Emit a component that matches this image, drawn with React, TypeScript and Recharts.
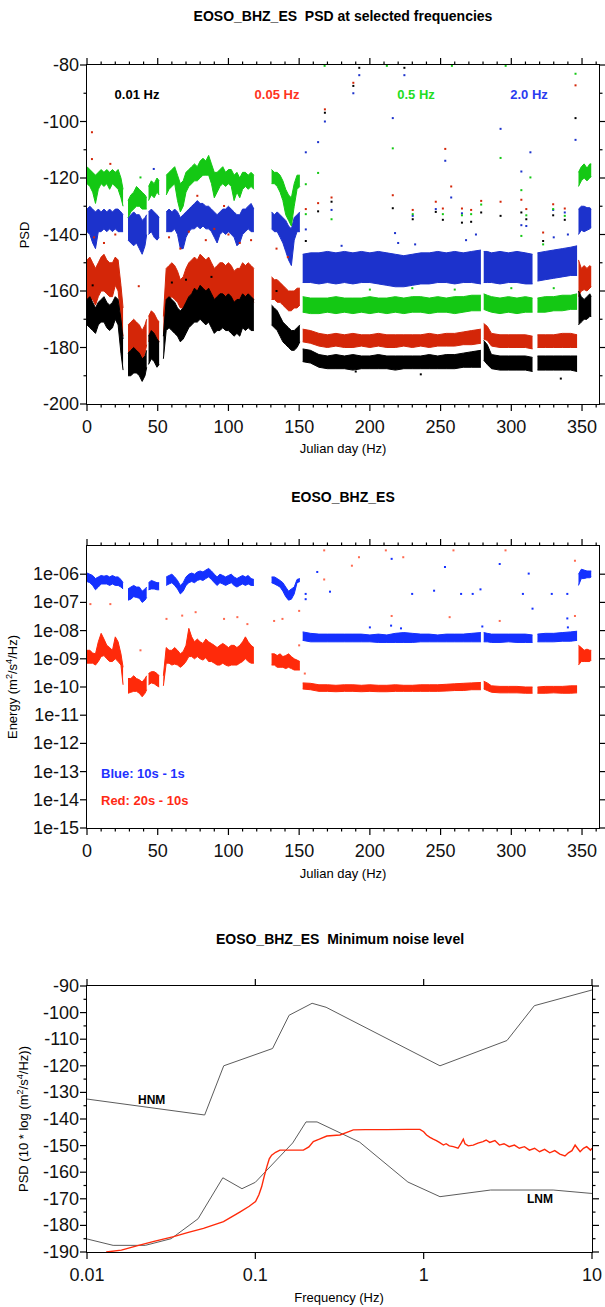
import React from "react";
import { ComposedChart, Area, Scatter, Line, XAxis, YAxis } from "recharts";

const N = null;
type Val = number | null;

// sampled Julian days; rows that are null in a series are gaps in the record
const DAYS = [
  0, 2, 4, 6, 8, 10, 12, 14, 16, 18, 20, 22, 24, 25.5,
  27,
  29, 31, 33, 35, 37, 39, 41, 42.2,
  42.8,
  43.5, 45.5, 47.5, 49.5, 51,
  52.5,
  54,
  56, 58, 60, 62, 64, 66, 68, 70, 72, 74, 76, 78, 80, 82, 84, 86,
  88, 90, 92, 94, 96, 98, 100, 102, 104, 106, 108, 110, 112, 114, 116, 118,
  120,
  130.5, 132.5, 134.5, 136.5, 138.5, 140.5, 142.5, 144.5, 146.5, 148.5, 150.5,
  151.5,
  152.5, 158, 164, 170, 176, 182, 188, 194, 200, 206, 212,
  218, 224, 230, 236, 242, 248, 254, 260, 266, 272, 278.5,
  279.5,
  280.5, 283, 286, 292, 298, 304, 310, 315,
  316.5,
  318.5, 324, 330, 336, 342, 346.5,
  346.9,
  347.5, 349.5, 351.5, 353.5, 355.5, 356.5,
];

// ---- PSD at selected frequencies (dB), upper / lower edge of each cloud ----
const HZ2_HI: Val[] = [
  -131, -130, -131, -132, -131, -132, -131, -132, -131, -132, -131, -131, -132, -133,
  N,
  -134, -133, -132, -133, -133, -135, -134, -133,
  N,
  -132, -131, -132, -133, -134,
  N,
  N,
  -132, -131, -132, -131, -132, -134, -133, -132, -131, -130, -129, -128, -129, -129, -130, -130,
  -131, -132, -133, -132, -131, -131, -130, -131, -132, -133, -133, -131, -131, -130, -129, -131,
  N,
  -132, -133, -132, -133, -134, -135, -137, -138, -134, -133, -132,
  N,
  -147, -146.5, -146.5, -146, -146.5, -146, -146.5, -146, -146.5, -146, -146.5,
  -147, -147.5, -147, -146.5, -146.5, -146, -146.5, -146, -146.5, -146, -145.5,
  N,
  -146, -146, -146.5, -146, -146.5, -146, -146.5, -147,
  N,
  -146.5, -146, -145.5, -145, -144.5, -144,
  N,
  -131, -130, -130, -130.5, -130.5, -131,
];
const HZ2_LO: Val[] = [
  -139, -140, -143, -145, -139, -139, -138, -139, -138, -139, -138, -139, -139, -139,
  N,
  -142, -143, -144, -143, -145, -147, -144, -140,
  N,
  -140, -139, -141, -142, -141,
  N,
  N,
  -139, -139, -139, -138, -140, -145, -145, -141, -139, -138, -138, -137, -138, -137, -138, -138,
  -139, -141, -143, -140, -139, -140, -139, -140, -141, -144, -143, -140, -139, -138, -139, -139,
  N,
  -138, -139, -139, -141, -143, -146, -149, -151, -142, -139, -139,
  N,
  -157, -157, -157.5, -157, -157.5, -157, -157.5, -157, -157, -157.5, -158,
  -158.5, -158.5, -158, -157.5, -157.5, -157, -157, -157.5, -157, -157, -157.5,
  N,
  -157, -157, -157, -157.5, -157, -157, -157.5, -157.5,
  N,
  -156.5, -156, -155.5, -155, -154.5, -154.5,
  N,
  -140, -138.5, -139, -138.5, -138, -137.5,
];
const HZ05_HI: Val[] = [
  -116, -117, -118, -119, -118, -117, -118, -117, -118, -117, -118, -117, -120, -124,
  N,
  -128, -126, -125, -123, -124, -125, -126, -127,
  N,
  -123, -121, -122, -120, -121,
  N,
  N,
  -119, -118, -117, -116, -119, -122, -121, -118, -117, -116, -115, -116, -114, -113, -114, -112,
  -115, -118, -118, -117, -116, -118, -117, -117, -119, -118, -120, -118, -118, -119, -118, -119,
  N,
  -117, -118, -118, -119, -121, -124, -126, -127, -122, -119, -119,
  N,
  -162, -162.5, -162.5, -162.5, -162, -162.5, -162.5, -162.5, -162, -162.5, -162.5,
  -162, -162.5, -162, -162, -162.5, -162, -162.5, -162, -162, -161.5, -161.5,
  N,
  -161, -161.5, -162, -162.5, -162, -162.5, -162, -162.5,
  N,
  -162.5, -162, -162, -161.5, -161.5, -161,
  N,
  -118, -116, -115, -116.5, -115, -115,
];
const HZ05_LO: Val[] = [
  -122, -123, -125, -129, -124, -122, -123, -122, -124, -122, -123, -124, -127, -130,
  N,
  -134, -132, -131, -130, -130, -131, -131, -131,
  N,
  -128, -126, -127, -125, -126,
  N,
  N,
  -126, -124, -123, -122, -128, -132, -130, -125, -123, -122, -121, -121, -120, -119, -119, -119,
  -122, -127, -125, -123, -122, -123, -122, -123, -128, -125, -127, -124, -123, -124, -123, -124,
  N,
  -122, -122, -123, -125, -128, -133, -135, -137, -130, -124, -123,
  N,
  -167.5, -168, -168, -167.5, -168, -167.5, -168, -167.5, -168, -167.5, -168,
  -167.5, -168, -167.5, -167.5, -168, -167.5, -167.5, -168, -167.5, -167, -167,
  N,
  -166.5, -167, -167.5, -168, -167.5, -168, -167.5, -167.5,
  N,
  -167.5, -167.5, -167, -167, -166.5, -166.5,
  N,
  -123, -121, -120, -121, -120, -119.5,
];
const HZ005_HI: Val[] = [
  -149, -148, -150, -152, -150, -148, -147, -149, -150, -150, -148, -149, -158, -166,
  N,
  -172, -171, -170, -171, -172, -174, -172, -170,
  N,
  -169, -167, -168, -170, -171,
  N,
  -169,
  -152, -151, -150, -151, -153, -156, -155, -152, -150, -149, -148, -149, -147, -148, -149, -148,
  -150, -152, -151, -150, -150, -151, -150, -151, -153, -152, -152, -150, -151, -150, -151, -152,
  N,
  -155, -156, -156, -157, -158, -159, -160, -160, -160, -159, -159,
  N,
  -173.5, -174, -175, -175.5, -175, -175.5, -175, -175.5, -175.5, -175, -175.5,
  -175.5, -175.5, -175.5, -175.5, -175, -175.5, -175, -175, -174.5, -174, -173.5,
  N,
  -171.5, -172.5, -175, -175.5, -175.5, -175.5, -175.5, -176,
  N,
  -175.5, -175.5, -175.5, -175, -175, -175.5,
  N,
  -149, -152, -151, -152, -151, -151.5,
];
const HZ005_LO: Val[] = [
  -163, -164, -163, -165, -162, -160, -160, -161, -162, -162, -158, -160, -170, -176,
  N,
  -182, -181, -181, -182, -183, -185, -182, -179,
  N,
  -178, -176, -177, -179, -178,
  N,
  -176,
  -164, -163, -162, -163, -164, -166, -166, -164, -162, -161, -160, -161, -160, -161, -162, -161,
  -162, -164, -163, -163, -162, -163, -163, -164, -165, -164, -165, -162, -163, -162, -163, -164,
  N,
  -163, -163, -164, -164, -165, -166, -167, -167, -166, -166, -165,
  N,
  -178, -178.5, -179.5, -180, -179.5, -180, -180, -179.5, -180, -179.5, -180,
  -180, -179.5, -180, -179.5, -180, -179.5, -179.5, -179.5, -179, -179, -178.5,
  N,
  -177, -177.5, -179.5, -180, -180, -180, -180, -180.5,
  N,
  -180, -180, -180, -180, -180, -180,
  N,
  -162, -160, -159.5, -160, -159, -158.5,
];
const HZ001_HI: Val[] = [
  -163, -162, -164, -166, -164, -163, -162, -164, -165, -164, -162, -163, -170, -177,
  N,
  -182, -181, -180, -181, -182, -184, -183, -181,
  N,
  -176, -174, -175, -177, -178,
  N,
  -176,
  -163, -162, -163, -164, -166, -167, -166, -164, -162, -161, -159, -160, -158, -159, -160, -159,
  -161, -163, -162, -161, -161, -162, -161, -162, -164, -163, -163, -161, -162, -161, -162, -163,
  N,
  -165, -166, -167, -169, -171, -172, -173, -174, -174, -173, -172,
  N,
  -180.5, -181, -182.5, -183, -182.5, -183, -182.5, -183, -183, -182.5, -183,
  -183, -183, -183, -183, -182.5, -183, -182.5, -182.5, -182, -181.5, -181,
  N,
  -177.5, -179, -182.5, -183, -183, -183, -183, -183.5,
  N,
  -183, -183, -183, -183, -183, -183,
  N,
  -160, -162, -163, -162, -161, -162,
];
const HZ001_LO: Val[] = [
  -172, -173, -174, -175, -172, -171, -171, -173, -174, -173, -170, -172, -182, -188,
  N,
  -190, -190, -189, -189, -190, -192, -190, -187,
  N,
  -186, -184, -185, -187, -186,
  N,
  -184,
  -174, -173, -174, -175, -176, -178, -177, -175, -173, -172, -171, -171, -170, -171, -172, -171,
  -173, -175, -174, -174, -173, -174, -174, -175, -176, -175, -176, -173, -174, -173, -174, -174,
  N,
  -172, -173, -174, -176, -178, -179, -180, -181, -181, -180, -178,
  N,
  -185, -185.5, -187, -187.5, -187.5, -187.5, -188, -187.5, -187.5, -187.5, -187.5,
  -188, -187.5, -187.5, -187.5, -187.5, -187.5, -187.5, -187.5, -187, -187, -187,
  N,
  -184.5, -186, -187.5, -188, -188, -188, -188, -188.5,
  N,
  -188, -188, -188, -188, -188, -188.5,
  N,
  -172, -171, -170, -170, -169, -169,
];

// isolated readings [day, dB]
const HZ2_OUT = [
  [47.2, -116.8], [154.7, -138.2], [154.7, -110.9], [163.4, -107.3], [168.2, -100], [172.9, -131.3],
  [188.3, -90], [192.5, -83.6], [216.2, -98.8], [217.8, -139.5], [224.4, -83.6], [230.3, -133.4],
  [246.6, -131], [253.3, -113.9], [257.5, -126.9], [265.1, -132.5], [292.4, -102.6], [307.1, -117.7],
  [307.1, -136.7], [310.6, -137], [313.5, -110.9], [329.6, -131.3], [337.8, -132.2], [345.4, -106.5],
  [180, -144], [220, -143], [232, -143.5], [268, -142], [275, -140], [330, -141], [340, -140],
];
const HZ05_OUT = [
  [37.8, -119.8], [154.7, -132.8], [154.7, -122.2], [163.4, -118.2], [168, -80.3], [172.9, -134.6],
  [212, -80.3], [216.2, -109.5], [230.3, -132.8], [251.6, -132.8], [258, -80.3], [265.1, -133.2],
  [271.6, -132.8], [278.7, -129.4], [292.4, -112.9], [296, -80.3], [307.1, -124.3], [307.1, -140.5],
  [310.6, -133.2], [313.5, -119.8], [322.5, -143.5], [329.6, -131], [337.8, -133.4], [345.4, -83.1],
  [200, -159.5], [230, -159], [260, -159.5], [300, -159], [330, -159],
];
const HZ005_OUT = [
  [3.5, -103.8], [3.5, -113.3], [16.5, -115], [154.7, -131], [163.4, -128.9], [168.2, -95.7],
  [172.9, -126.9], [188.3, -86.3], [216.2, -126.1], [230.3, -131.3], [246.6, -128.4], [251.6, -130.8],
  [253.3, -109.7], [257.5, -123], [265.1, -130.8], [271.6, -131.3], [278.7, -128.1], [292.4, -128.4],
  [307.1, -127.7], [310.6, -131], [322.5, -139.3], [329.6, -129.3], [337.8, -130.8], [345.4, -87.2],
  [5, -141], [12, -143], [20, -140], [36.6, -158.3], [58, -141], [66, -145], [72, -139], [78, -126.3],
  [84, -142], [90, -138], [96.9, -129.9], [100, -140], [108, -143], [116, -142], [134, -145], [142, -148],
];
const HZ001_OUT = [
  [154.7, -142.3], [163.4, -131.8], [168.2, -96.9], [172.9, -128.4], [188.3, -87.4], [192.5, -81],
  [216.2, -130.7], [224.4, -81], [230.3, -134.6], [246.6, -132], [251.6, -134.8], [265.1, -135.8],
  [271.6, -135.5], [278.7, -132.2], [292.4, -133.4], [307.1, -132.2], [310.6, -134.6], [322.5, -142.3],
  [329.6, -133.2], [337.8, -134.8], [345.4, -98.8], [4, -158], [60, -157], [70, -156], [88, -155],
  [134, -160], [190, -188.5], [236, -189.5], [335, -191],
];

// ---- band energy (m^2/s^4/Hz) ----
const E10_1_HI: Val[] = [
  1.1e-6, 1e-6, 9e-7, 7e-7, 8e-7, 9e-7, 8.5e-7, 9e-7, 8e-7, 9e-7, 8e-7, 8e-7, 6.5e-7, 5e-7,
  N,
  3e-7, 3.5e-7, 4e-7, 3.5e-7, 3.5e-7, 2.5e-7, 3e-7, 3.5e-7,
  N,
  5e-7, 6e-7, 5.5e-7, 5e-7, 5e-7,
  N,
  N,
  8e-7, 9e-7, 1e-6, 8e-7, 6e-7, 4e-7, 5e-7, 8e-7, 1e-6, 1.1e-6, 1e-6, 1.2e-6, 1.3e-6, 1.2e-6, 1.4e-6, 1.6e-6,
  1.3e-6, 1e-6, 8e-7, 1e-6, 9e-7, 8e-7, 9e-7, 1e-6, 8e-7, 7e-7, 8e-7, 9e-7, 8e-7, 9e-7, 7e-7, 6.5e-7,
  N,
  8e-7, 8e-7, 7e-7, 6e-7, 5e-7, 3.5e-7, 2.5e-7, 3e-7, 3.5e-7, 6.5e-7, 7e-7,
  N,
  9e-9, 8e-9, 7.5e-9, 7.5e-9, 7.5e-9, 7.5e-9, 7.5e-9, 7.5e-9, 7e-9, 7.5e-9, 7e-9,
  8e-9, 8.5e-9, 8e-9, 7.5e-9, 7.5e-9, 7e-9, 7.5e-9, 7.5e-9, 7.5e-9, 8e-9, 8.5e-9,
  N,
  8.5e-9, 8e-9, 7.5e-9, 7.5e-9, 7.5e-9, 7.5e-9, 7.5e-9, 7e-9,
  N,
  7.5e-9, 8e-9, 8e-9, 8.5e-9, 9e-9, 9.5e-9,
  N,
  1e-6, 1.5e-6, 1.4e-6, 1.3e-6, 1.3e-6, 1.3e-6,
];
const E10_1_LO: Val[] = [
  5.5e-7, 5e-7, 4e-7, 2.8e-7, 3.5e-7, 4.5e-7, 4.5e-7, 4.5e-7, 4e-7, 4.5e-7, 4e-7, 4e-7, 3.5e-7, 3e-7,
  N,
  1.2e-7, 1.3e-7, 1.6e-7, 1.5e-7, 1.4e-7, 1e-7, 1.2e-7, 1.5e-7,
  N,
  2.8e-7, 3e-7, 3e-7, 2.8e-7, 2.8e-7,
  N,
  N,
  4e-7, 4.5e-7, 5e-7, 4e-7, 3e-7, 2e-7, 2.5e-7, 4e-7, 5e-7, 5.5e-7, 5e-7, 6e-7, 6.5e-7, 6e-7, 7e-7, 8e-7,
  6.5e-7, 5e-7, 4e-7, 5e-7, 4.5e-7, 4e-7, 4.5e-7, 5e-7, 4e-7, 3.5e-7, 4e-7, 4.5e-7, 4e-7, 4.5e-7, 4e-7, 4e-7,
  N,
  5e-7, 4.5e-7, 4e-7, 3.5e-7, 2.5e-7, 1.6e-7, 1.2e-7, 1.3e-7, 2e-7, 5e-7, 5.5e-7,
  N,
  4.5e-9, 4e-9, 4e-9, 4e-9, 4e-9, 4e-9, 4e-9, 4e-9, 4e-9, 3.8e-9, 3.8e-9,
  3.8e-9, 3.8e-9, 3.8e-9, 4e-9, 4e-9, 4e-9, 4e-9, 4e-9, 4e-9, 4e-9, 4e-9,
  N,
  4e-9, 4e-9, 3.8e-9, 3.8e-9, 4e-9, 3.8e-9, 3.8e-9, 3.8e-9,
  N,
  4e-9, 4e-9, 4e-9, 4.2e-9, 4.2e-9, 4.5e-9,
  N,
  4e-7, 7e-7, 7e-7, 7.5e-7, 7.5e-7, 8e-7,
];
const E20_10_HI: Val[] = [
  2e-9, 2e-9, 1.6e-9, 1.5e-9, 4e-9, 8e-9, 5e-9, 3e-9, 2.5e-9, 2e-9, 6e-9, 4e-9, 1.5e-9, 5e-10,
  N,
  2e-10, 2e-10, 2.5e-10, 2e-10, 1.8e-10, 1.5e-10, 2e-10, 2.5e-10,
  N,
  3e-10, 3.5e-10, 3.5e-10, 3e-10, 2.5e-10,
  N,
  2.5e-10,
  2.5e-9, 2e-9, 2e-9, 2.5e-9, 2e-9, 1.5e-9, 1.8e-9, 3e-9, 1.2e-8, 6e-9, 4e-9, 5e-9, 4e-9, 3.5e-9, 5e-9, 4e-9,
  3.5e-9, 3e-9, 2.5e-9, 3e-9, 3.5e-9, 3e-9, 2.5e-9, 3e-9, 3e-9, 2.5e-9, 3e-9, 4e-9, 6e-9, 4e-9, 3e-9, 2.5e-9,
  N,
  1.5e-9, 1.5e-9, 1.3e-9, 1.5e-9, 1.2e-9, 1.3e-9, 1.5e-9, 1.2e-9, 1e-9, 9e-10, 8e-10,
  N,
  1.4e-10, 1.35e-10, 1.2e-10, 1.2e-10, 1.15e-10, 1.2e-10, 1.2e-10, 1.15e-10, 1.2e-10, 1.15e-10, 1.15e-10,
  1.2e-10, 1.15e-10, 1.15e-10, 1.2e-10, 1.2e-10, 1.2e-10, 1.25e-10, 1.3e-10, 1.35e-10, 1.4e-10, 1.45e-10,
  N,
  1.6e-10, 1.4e-10, 1.1e-10, 1.05e-10, 1.05e-10, 1.05e-10, 1e-10, 1e-10,
  N,
  1e-10, 1.05e-10, 1.05e-10, 1.05e-10, 1.1e-10, 1.1e-10,
  N,
  3e-9, 2.5e-9, 2e-9, 2.2e-9, 2e-9, 2e-9,
];
const E20_10_LO: Val[] = [
  7e-10, 7e-10, 7e-10, 6e-10, 8e-10, 1.2e-9, 1.3e-9, 1e-9, 8e-10, 8e-10, 1e-9, 8e-10, 6e-10, 1.2e-10,
  N,
  6e-11, 6.5e-11, 7e-11, 7e-11, 6e-11, 4.5e-11, 6e-11, 8e-11,
  N,
  1.2e-10, 1.4e-10, 1.3e-10, 1.1e-10, 1e-10,
  N,
  1.1e-10,
  7e-10, 7e-10, 6e-10, 6.5e-10, 6e-10, 5e-10, 6e-10, 8e-10, 1.2e-9, 1.2e-9, 1e-9, 1.2e-9, 1e-9, 9e-10, 1.1e-9, 8e-10,
  8e-10, 7e-10, 6e-10, 6e-10, 7e-10, 6e-10, 5.5e-10, 6e-10, 6e-10, 6e-10, 7e-10, 8e-10, 1e-9, 8e-10, 7e-10, 7e-10,
  N,
  6e-10, 6e-10, 5e-10, 5e-10, 5e-10, 4.5e-10, 5e-10, 4.5e-10, 4e-10, 4e-10, 4e-10,
  N,
  8.5e-11, 8e-11, 7e-11, 7e-11, 6.8e-11, 7e-11, 7e-11, 6.8e-11, 7e-11, 6.8e-11, 6.8e-11,
  7e-11, 7e-11, 7e-11, 7e-11, 7e-11, 7e-11, 7.2e-11, 7.5e-11, 7.5e-11, 8e-11, 8e-11,
  N,
  8.5e-11, 7.5e-11, 6.5e-11, 6.2e-11, 6.2e-11, 6.2e-11, 6e-11, 6e-11,
  N,
  6e-11, 6e-11, 6.2e-11, 6e-11, 6e-11, 6.2e-11,
  N,
  6e-10, 8e-10, 8e-10, 8e-10, 8e-10, 9e-10,
];
const E10_1_OUT = [
  [162.8, 1.2e-6], [215.4, 3.5e-6], [171.8, 2.4e-7], [253.1, 1.8e-6], [291.8, 2.3e-6], [312.3, 1.05e-6],
  [245.4, 2.6e-7], [264.5, 2e-7], [272.7, 2e-7], [278.2, 2.9e-7], [229.9, 2e-7], [308.2, 2e-7],
  [328.6, 2e-7], [339.6, 2e-7], [315, 6e-8], [154.6, 2e-7], [154.6, 1.3e-7], [339.6, 2.7e-8],
  [279.5, 1.4e-8], [200, 1.3e-8], [215, 1.5e-8], [222, 1.2e-8], [340, 1.3e-8],
];
const E20_10_OUT = [
  [167.7, 7e-6], [187.3, 2e-6], [192.3, 4e-6], [211.3, 7e-6], [223.6, 4e-6], [259.1, 7e-6],
  [295.9, 7e-6], [345, 3e-6], [167.7, 6.5e-7], [215.4, 3.3e-8], [256.4, 3e-8], [291.8, 2.2e-8],
  [345, 3.3e-8], [2.4, 8.7e-8], [16.5, 8.7e-8], [56.2, 2.6e-8], [67.3, 3.4e-8], [76.8, 4.5e-8],
  [96.9, 2.6e-8], [106.3, 3e-8], [113.4, 1.7e-8], [132.3, 2.2e-8], [138.2, 2.6e-8], [150, 5e-8],
  [150, 3e-9], [37.8, 2e-9], [154, 3e-10],
];

// ---- minimum noise level vs frequency ----
const HNM_F = [0.01, 0.05, 0.0649, 0.1266, 0.1587, 0.2174, 0.2632, 1.25, 3.125, 4.545, 10];
const HNM_DB = [-132.5, -138.5, -120, -113.5, -101, -96.5, -98, -120, -110.5, -97.4, -91.5];
const LNM_F = [0.01, 0.01429, 0.0222, 0.0316, 0.0457, 0.0641, 0.0833, 0.1, 0.1667, 0.2, 0.2326, 0.4167, 0.806, 1.25, 2.5, 5.88, 10];
const LNM_DB = [-185.1, -187.5, -187.5, -185, -177.5, -162.1, -166.2, -163.8, -149, -141.1, -141.1, -148.7, -163.7, -169.2, -166.7, -166.7, -168];
const MIN_F = [
  0.013, 0.016, 0.02, 0.025, 0.0327, 0.04, 0.0492, 0.0647, 0.0813, 0.092,
  0.1003, 0.105, 0.109, 0.113, 0.117, 0.121, 0.125, 0.132, 0.14, 0.16,
  0.193, 0.208, 0.221, 0.24, 0.266, 0.29, 0.318, 0.35, 0.382, 0.45,
  0.6, 0.8, 0.95,
  1.0, 1.04, 1.09, 1.14, 1.19, 1.24, 1.31, 1.36, 1.42, 1.5,
  1.6, 1.67, 1.72, 1.76, 1.84, 1.97, 2.1, 2.25, 2.35, 2.47,
  2.65, 2.82, 3.0, 3.22, 3.46, 3.7, 3.97, 4.25, 4.56, 4.88,
  5.23, 5.61, 6.01, 6.44, 6.91, 7.24, 7.6, 7.94, 8.2, 8.5,
  8.9, 9.3, 9.8, 10,
];
const MIN_DB = [
  -190, -189.3, -187.6, -186, -184.2, -182.6, -181.1, -178.6, -174.9, -172.8,
  -171, -168.5, -165.5, -161.5, -158, -155, -153.6, -152.5, -151.7, -151.7,
  -151.7, -150.5, -148.5, -147.6, -146.4, -146.2, -146, -145, -144.1, -144,
  -144, -143.9, -143.9,
  -144.8, -146, -146.9, -147.6, -148.1, -148.8, -149.8, -149.3, -150.1, -150.4,
  -151, -149.1, -147.6, -149.3, -150.1, -149.8, -149.1, -148.5, -147.9, -148.8,
  -148.1, -149.8, -149.3, -150.4, -149.8, -151, -150.4, -151.7, -151, -152.3,
  -151.4, -152.7, -151.9, -153.2, -153.9, -152.7, -151.9, -149.8, -151, -152.3,
  -151, -150.4, -151.7, -151,
];

const DAY_TICKS = [0, 10, 20, 30, 40, 50, 60, 70, 80, 90, 100, 110, 120, 130, 140, 150, 160, 170, 180, 190, 200, 210, 220, 230, 240, 250, 260, 270, 280, 290, 300, 310, 320, 330, 340, 350, 360];
const PSD_TICKS = [-200, -190, -180, -170, -160, -150, -140, -130, -120, -110, -100, -90, -80];
const ENERGY_EXP = [-15, -14, -13, -12, -11, -10, -9, -8, -7, -6];
const FREQ_TICKS = [0.01, 0.1, 1, 10];
const NOISE_TICKS = [-190, -185, -180, -175, -170, -165, -160, -155, -150, -145, -140, -135, -130, -125, -120, -115, -110, -105, -100, -95, -90];

const FONT = '"Liberation Sans", Arial, Helvetica, sans-serif';
const INK = "#111";

const band = (lo: Val[], hi: Val[]) =>
  DAYS.map((day, i) => ({ day, v: lo[i] == null || hi[i] == null ? null : [lo[i], hi[i]] }));
const pts = (list: number[][]) => list.map(([day, v]) => ({ day, v }));
const curve = (f: number[], db: number[]) => f.map((x, i) => ({ f: x, v: db[i] }));

const dot = (color: string, s = 2) => (p: any) =>
  p.cx == null ? <g /> : <rect x={p.cx - s / 2} y={p.cy - s / 2} width={s} height={s} fill={color} />;

function xTick(top: number, isMajor: (v: number) => boolean, label: (v: number) => string) {
  return (p: any) => {
    const v = p.payload.value;
    const major = isMajor(v);
    const len = major ? 7 : 3.5;
    return (
      <g>
        <line x1={p.x} x2={p.x} y1={p.y} y2={p.y + len} stroke="#000" strokeWidth={1.2} />
        <line x1={p.x} x2={p.x} y1={top} y2={top - len} stroke="#000" strokeWidth={1.2} />
        {major && (
          <text x={p.x} y={p.y + 23} textAnchor="middle" dominantBaseline="central" fontFamily={FONT} fontSize={18} fill={INK}>
            {label(v)}
          </text>
        )}
      </g>
    );
  };
}

function yTick(right: number, isMajor: (v: number) => boolean, label: (v: number) => string) {
  return (p: any) => {
    const v = p.payload.value;
    const major = isMajor(v);
    const len = major ? 7 : 3.5;
    return (
      <g>
        <line x1={p.x - len} x2={p.x} y1={p.y} y2={p.y} stroke="#000" strokeWidth={1.2} />
        <line x1={right} x2={right + len} y1={p.y} y2={p.y} stroke="#000" strokeWidth={1.2} />
        {major && (
          <text x={79} y={p.y} textAnchor="end" dominantBaseline="central" fontFamily={FONT} fontSize={18} fill={INK}>
            {label(v)}
          </text>
        )}
      </g>
    );
  };
}

const expLabel = (v: number) => {
  const e = Math.round(Math.log10(v));
  return "1e-" + String(-e).padStart(2, "0");
};

const Txt = (props: { x: number; y: number; size?: number; bold?: boolean; color?: string; left?: boolean; rotate?: boolean; children: React.ReactNode }) => (
  <div
    style={{
      position: "absolute",
      left: props.x,
      top: props.y,
      transform: `translate(${props.left ? "0" : "-50%"}, -50%)${props.rotate ? " rotate(-90deg)" : ""}`,
      fontSize: props.size ?? 13,
      fontWeight: props.bold ? 700 : 400,
      color: props.color ?? "#000",
      whiteSpace: "nowrap",
      lineHeight: 1,
      fontFamily: FONT,
    }}
  >
    {props.children}
  </div>
);

const Frame = ({ l, t, r, b }: { l: number; t: number; r: number; b: number }) => (
  <div
    style={{
      position: "absolute",
      left: l - 0.75,
      top: t - 0.75,
      width: r - l + 1.5,
      height: b - t + 1.5,
      border: "1.5px solid #000",
      boxSizing: "border-box",
      pointerEvents: "none",
    }}
  />
);

const sup = (s: string) => <span style={{ fontSize: "0.7em", verticalAlign: "0.45em" }}>{s}</span>;

const P1 = { black: "#000000", red: "#d42608", green: "#14c814", blue: "#1c32cc" };
const P2 = { blue: "#1430ff", red: "#ff2a0a" };

export default function App() {
  const bands1 = [
    { lo: HZ2_LO, hi: HZ2_HI, c: P1.blue },
    { lo: HZ05_LO, hi: HZ05_HI, c: P1.green },
    { lo: HZ005_LO, hi: HZ005_HI, c: P1.red },
    { lo: HZ001_LO, hi: HZ001_HI, c: P1.black },
  ];
  const outs1 = [
    { d: HZ2_OUT, c: P1.blue },
    { d: HZ05_OUT, c: P1.green },
    { d: HZ005_OUT, c: P1.red },
    { d: HZ001_OUT, c: P1.black },
  ];

  return (
    <div style={{ position: "absolute", left: 0, top: 0, width: 605, height: 1307, background: "#fff", fontFamily: FONT }}>
      {/* ---------- PSD at selected frequencies ---------- */}
      <div style={{ position: "absolute", left: 0, top: 0 }}>
        <ComposedChart width={605} height={440} margin={{ top: 65, right: 6, bottom: 0, left: 0 }}>
          <XAxis
            type="number"
            dataKey="day"
            domain={[0, 362]}
            ticks={DAY_TICKS}
            interval={0}
            allowDataOverflow
            height={36}
            axisLine={false}
            tickLine={false}
            tickSize={0}
            tickMargin={0}
            tick={xTick(65, (v) => v % 50 === 0, (v) => String(v))}
          />
          <YAxis
            type="number"
            domain={[-200, -80]}
            ticks={PSD_TICKS}
            interval={0}
            allowDataOverflow
            width={87}
            axisLine={false}
            tickLine={false}
            tickSize={0}
            tickMargin={0}
            tick={yTick(599, (v) => v % 20 === 0, (v) => String(v))}
          />
          {bands1.map((b, i) => (
            <Area
              key={"b1" + i}
              data={band(b.lo, b.hi)}
              dataKey="v"
              type="linear"
              stroke={b.c}
              strokeWidth={1}
              fill={b.c}
              fillOpacity={1}
              isAnimationActive={false}
              connectNulls={false}
              dot={false}
              activeDot={false}
            />
          ))}
          {outs1.map((o, i) => (
            <Scatter key={"o1" + i} data={pts(o.d)} dataKey="v" shape={dot(o.c)} isAnimationActive={false} />
          ))}
        </ComposedChart>
      </div>
      <Frame l={87} t={65} r={599} b={404} />
      <Txt x={343} y={16} size={14} bold>
        EOSO_BHZ_ES&nbsp;&nbsp;PSD at selected frequencies
      </Txt>
      <Txt x={137} y={94} bold>0.01 Hz</Txt>
      <Txt x={277} y={94} bold color="#ff3322">0.05 Hz</Txt>
      <Txt x={416} y={94} bold color="#22dd22">0.5 Hz</Txt>
      <Txt x={529} y={94} bold color="#2a3cf0">2.0 Hz</Txt>
      <Txt x={24} y={235} rotate>PSD</Txt>
      <Txt x={343} y={448}>Julian day (Hz)</Txt>

      {/* ---------- band energy ---------- */}
      <div style={{ position: "absolute", left: 0, top: 460 }}>
        <ComposedChart width={605} height={420} margin={{ top: 86, right: 6, bottom: 0, left: 0 }}>
          <XAxis
            type="number"
            dataKey="day"
            domain={[0, 362]}
            ticks={DAY_TICKS}
            interval={0}
            allowDataOverflow
            height={52}
            axisLine={false}
            tickLine={false}
            tickSize={0}
            tickMargin={0}
            tick={xTick(86, (v) => v % 50 === 0, (v) => String(v))}
          />
          <YAxis
            type="number"
            scale="log"
            domain={[1e-15, 1e-5]}
            ticks={ENERGY_EXP.map((e) => Math.pow(10, e))}
            interval={0}
            allowDataOverflow
            width={87}
            axisLine={false}
            tickLine={false}
            tickSize={0}
            tickMargin={0}
            tick={yTick(599, () => true, expLabel)}
          />
          <Area data={band(E10_1_LO, E10_1_HI)} dataKey="v" type="linear" stroke={P2.blue} strokeWidth={1} fill={P2.blue} fillOpacity={1} isAnimationActive={false} dot={false} activeDot={false} />
          <Area data={band(E20_10_LO, E20_10_HI)} dataKey="v" type="linear" stroke={P2.red} strokeWidth={1} fill={P2.red} fillOpacity={1} isAnimationActive={false} dot={false} activeDot={false} />
          <Scatter data={pts(E10_1_OUT)} dataKey="v" shape={dot(P2.blue)} isAnimationActive={false} />
          <Scatter data={pts(E20_10_OUT)} dataKey="v" shape={dot("#ff6a50")} isAnimationActive={false} />
        </ComposedChart>
      </div>
      <Frame l={87} t={546} r={599} b={828} />
      <Txt x={343} y={497} size={14} bold>EOSO_BHZ_ES</Txt>
      <Txt x={101} y={773} left bold color="#1e32ff">Blue: 10s - 1s</Txt>
      <Txt x={101} y={800} left bold color="#ff2a14">Red: 20s - 10s</Txt>
      <Txt x={12} y={687} rotate>
        Energy (m{sup("2")}/s{sup("4")}/Hz)
      </Txt>
      <Txt x={343} y={873}>Julian day (Hz)</Txt>

      {/* ---------- minimum noise level ---------- */}
      <div style={{ position: "absolute", left: 0, top: 950 }}>
        <ComposedChart width={605} height={340} margin={{ top: 36, right: 13, bottom: 0, left: 0 }}>
          <XAxis
            type="number"
            dataKey="f"
            scale="log"
            domain={[0.01, 10]}
            ticks={FREQ_TICKS}
            interval={0}
            allowDataOverflow
            height={38}
            axisLine={false}
            tickLine={false}
            tickSize={0}
            tickMargin={0}
            tick={xTick(36, () => true, (v) => String(v))}
          />
          <YAxis
            type="number"
            domain={[-190, -90]}
            ticks={NOISE_TICKS}
            interval={0}
            allowDataOverflow
            width={87}
            axisLine={false}
            tickLine={false}
            tickSize={0}
            tickMargin={0}
            tick={yTick(592, (v) => v % 10 === 0, (v) => String(v))}
          />
          <Line data={curve(HNM_F, HNM_DB)} dataKey="v" type="linear" stroke="#5c5c5c" strokeWidth={1} dot={false} activeDot={false} isAnimationActive={false} />
          <Line data={curve(LNM_F, LNM_DB)} dataKey="v" type="linear" stroke="#5c5c5c" strokeWidth={1} dot={false} activeDot={false} isAnimationActive={false} />
          <Line data={curve(MIN_F, MIN_DB)} dataKey="v" type="linear" stroke="#ff2a0a" strokeWidth={1.4} dot={false} activeDot={false} isAnimationActive={false} />
        </ComposedChart>
      </div>
      <Frame l={87} t={986} r={592} b={1252} />
      <Txt x={340} y={939} size={14} bold>
        EOSO_BHZ_ES&nbsp;&nbsp;Minimum noise level
      </Txt>
      <Txt x={138} y={1100} left bold size={12}>HNM</Txt>
      <Txt x={527} y={1199} left bold size={12}>LNM</Txt>
      <Txt x={23} y={1119} rotate>
        PSD (10 * log (m{sup("2")}/s{sup("4")}/Hz))
      </Txt>
      <Txt x={339} y={1297}>Frequency (Hz)</Txt>
    </div>
  );
}
